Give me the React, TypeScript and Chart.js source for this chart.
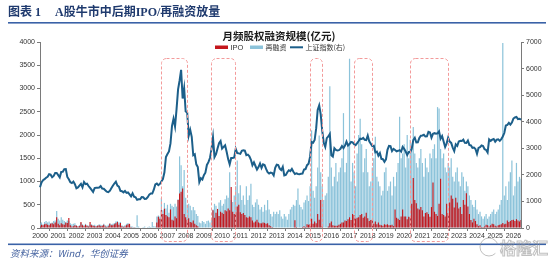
import React, { useEffect, useRef } from "react";
import { Chart, registerables } from "chart.js";

Chart.register(...registerables);

// Monthly categories, 2000-01 .. 2026-06
const startYear = 2000;
const monthCount = 318;
const monthLabels: string[] = [];
for (let i = 0; i < monthCount; i++) {
  const y = startYear + Math.floor(i / 12);
  const m = (i % 12) + 1;
  monthLabels.push(`${y}-${m < 10 ? "0" + m : m}`);
}

// IPO fundraising, 亿元 (one row per year)
const ipoValues = [
  40, 70, 60, 80, 90, 70, 60, 90, 100, 80, 120, 230,
  90, 60, 100, 80, 70, 120, 110, 215, 60, 30, 40, 60,
  50, 30, 40, 130, 60, 40, 70, 50, 30, 130, 60, 50,
  40, 30, 50, 60, 40, 50, 70, 30, 20, 40, 90, 60,
  60, 80, 100, 130, 70, 110, 40, 20, 30, 60, 80, 90,
  20, 10, 15, 10, 10, 0, 0, 0, 0, 0, 0, 0,
  0, 0, 0, 0, 0, 120, 240, 200, 380, 300, 415, 280,
  250, 230, 400, 180, 160, 250, 210, 600, 740, 780, 850, 300,
  230, 180, 210, 130, 120, 160, 90, 60, 40, 0, 0, 0,
  0, 0, 0, 0, 0, 0, 380, 220, 330, 410, 260, 350,
  330, 300, 380, 360, 420, 380, 880, 350, 300, 340, 460, 500,
  340, 300, 320, 280, 230, 220, 250, 230, 160, 120, 140, 180,
  120, 100, 100, 120, 110, 90, 100, 60, 40, 20, 0, 0,
  0, 0, 0, 0, 0, 0, 0, 0, 0, 0, 0, 0,
  165, 20, 0, 0, 0, 20, 40, 20, 80, 70, 80, 200,
  90, 140, 100, 300, 180, 600, 40, 0, 0, 0, 30, 100,
  140, 60, 50, 50, 50, 70, 90, 120, 120, 160, 150, 190,
  230, 170, 300, 280, 200, 220, 230, 280, 300, 220, 250, 330,
  210, 150, 170, 180, 90, 140, 80, 120, 70, 60, 50, 80,
  70, 80, 60, 60, 70, 40, 400, 220, 200, 170, 250, 400,
  250, 250, 190, 240, 230, 520, 1075, 600, 530, 420, 400, 450,
  380, 250, 320, 340, 300, 240, 450, 980, 350, 300, 260, 520,
  1060, 300, 280, 250, 520, 320, 550, 700, 630, 440, 650, 550,
  420, 450, 300, 600, 500, 750, 460, 300, 170, 120, 200, 150,
  80, 40, 60, 20, 20, 30, 70, 60, 30, 60, 90, 80,
  50, 30, 60, 70, 80, 110, 80, 90, 160, 130, 150, 170,
  180, 150, 190, 160, 140, 170,
];

// Refinancing, 亿元 (one row per year)
const refiValues = [
  100, 120, 80, 130, 150, 120, 140, 100, 120, 150, 160, 365,
  200, 160, 230, 180, 150, 120, 160, 150, 100, 80, 90, 100,
  60, 40, 60, 110, 80, 60, 90, 60, 50, 70, 80, 60,
  70, 50, 60, 80, 70, 60, 90, 60, 50, 70, 100, 80,
  90, 110, 140, 150, 120, 130, 60, 40, 60, 90, 110, 60,
  40, 30, 20, 20, 272, 30, 10, 10, 20, 30, 10, 20,
  30, 20, 130, 40, 30, 250, 270, 250, 645, 380, 540, 420,
  500, 330, 520, 480, 450, 520, 460, 620, 1540, 1350, 900, 1250,
  650, 500, 520, 480, 380, 450, 380, 300, 260, 120, 100, 150,
  130, 90, 150, 160, 120, 180, 400, 520, 480, 300, 550, 600,
  480, 520, 620, 700, 650, 1200, 600, 560, 700, 900, 1450, 750,
  920, 600, 700, 500, 900, 600, 700, 950, 500, 450, 550, 620,
  500, 400, 450, 350, 500, 380, 600, 400, 300, 250, 350, 300,
  350, 300, 380, 250, 200, 300, 250, 180, 300, 400, 450, 500,
  480, 600, 850, 500, 450, 400, 550, 600, 700, 580, 900, 2100,
  800, 650, 900, 1300, 1990, 1200, 900, 600, 700, 750, 1100, 3050,
  1300, 900, 1100, 1400, 1000, 1200, 1300, 1500, 2470, 1200, 1400, 1800,
  3640, 1000, 1400, 1200, 900, 1600, 2000, 2350, 1800, 1200, 1500, 1700,
  1200, 900, 1000, 1300, 1500, 1960, 1100, 1000, 900, 700, 800, 1200,
  1300, 800, 900, 1000, 700, 1100, 900, 1200, 1400, 2390, 1500, 1600,
  1800, 1300, 2000, 1500, 1900, 1700, 2170, 1600, 1400, 1300, 1500, 1700,
  1400, 1100, 1500, 1300, 1200, 1600, 1500, 1700, 1800, 1500, 2600, 2570,
  1700, 1500, 1600, 1300, 1200, 1400, 1300, 1500, 1100, 1000, 1200, 1300,
  1000, 900, 1200, 1100, 800, 1000, 900, 700, 600, 500, 450, 600,
  400, 300, 350, 250, 200, 250, 300, 200, 250, 300, 350, 400,
  300, 350, 400, 500, 600, 3980, 700, 900, 600, 1000, 1200, 1450,
  700, 900, 1400, 1000, 1100, 1060,
];

// Shanghai Composite, month-end level (right axis)
const sseIndex = [
  1535, 1715, 1800, 1836, 1894, 1928, 2023, 2008, 1910, 1961, 2070, 2073,
  1991, 1908, 2112, 2119, 2214, 2218, 1920, 1834, 1724, 1690, 1747, 1646,
  1491, 1525, 1594, 1660, 1531, 1733, 1650, 1669, 1581, 1507, 1435, 1357,
  1500, 1512, 1511, 1521, 1577, 1487, 1477, 1421, 1367, 1349, 1397, 1497,
  1590, 1675, 1742, 1595, 1555, 1399, 1386, 1342, 1396, 1320, 1341, 1266,
  1191, 1306, 1181, 1159, 1060, 1080, 1083, 1162, 1155, 1092, 1099, 1161,
  1258, 1299, 1298, 1440, 1641, 1672, 1612, 1658, 1752, 1838, 2099, 2675,
  2786, 2881, 3183, 3841, 4109, 3820, 4471, 5218, 5552, 5954, 4871, 5262,
  4383, 4348, 3473, 3693, 3433, 2736, 2775, 2397, 2293, 1729, 1871, 1821,
  1991, 2082, 2373, 2477, 2633, 2959, 3412, 2668, 2779, 2996, 3195, 3277,
  2989, 3051, 3110, 2871, 2592, 2398, 2638, 2639, 2656, 2979, 2820, 2808,
  2791, 2905, 2928, 2911, 2743, 2762, 2701, 2568, 2359, 2469, 2333, 2199,
  2293, 2428, 2263, 2397, 2373, 2225, 2103, 2048, 2086, 2069, 1980, 2269,
  2385, 2366, 2237, 2178, 2301, 1979, 1994, 2098, 2175, 2141, 2221, 2116,
  2033, 2056, 2033, 2026, 2039, 2048, 2202, 2217, 2364, 2420, 2683, 3235,
  3210, 3310, 3748, 4442, 4612, 4277, 3664, 3206, 3053, 3383, 3445, 3539,
  2738, 2688, 3004, 2938, 2917, 2930, 2979, 3085, 3005, 3100, 3250, 3104,
  3159, 3242, 3223, 3155, 3117, 3192, 3273, 3361, 3349, 3393, 3317, 3307,
  3481, 3259, 3169, 3082, 3095, 2847, 2876, 2725, 2821, 2603, 2588, 2494,
  2585, 2941, 3091, 3078, 2899, 2979, 2933, 2886, 2905, 2929, 2871, 3050,
  2977, 2880, 2750, 2860, 2852, 2985, 3310, 3396, 3218, 3225, 3392, 3473,
  3483, 3509, 3442, 3447, 3615, 3591, 3397, 3544, 3568, 3547, 3564, 3640,
  3361, 3462, 3252, 3047, 3186, 3399, 3253, 3202, 3024, 2893, 3151, 3089,
  3256, 3280, 3273, 3323, 3205, 3202, 3291, 3120, 3110, 3019, 3030, 2975,
  2789, 3015, 3041, 3105, 3087, 2967, 2939, 2842, 3336, 3279, 3326, 3352,
  3251, 3321, 3336, 3279, 3347, 3444, 3573, 3858, 3883, 3955, 3888, 3969,
  4120, 4160, 4180, 4100, 4110, 4080,
];

// Bull-market windows outlined with dashed boxes (first and last month)
const bullWindows: [string, string][] = [
  ["2006-09", "2008-02"],
  ["2009-06", "2010-10"],
  ["2014-11", "2015-07"],
  ["2017-04", "2018-04"],
  ["2020-05", "2022-06"],
];

const figureTitle = "A股牛市中后期IPO/再融资放量";
const chartTitle = "月频股权融资规模(亿元)";
const sourceNote = "资料来源：Wind，华创证券";

const RED = "#C4161C";
const LIGHT_BLUE = "#8CC3DA";
const LINE_BLUE = "#1C5F8A";
const NAVY = "#1F3A6E";
const RULE_BLUE = "#3A62A7";
const SANS = '"Liberation Sans", Arial, sans-serif';
const CJK = '"Noto Sans CJK SC", sans-serif';

function roundedRect(ctx: CanvasRenderingContext2D, x: number, y: number, w: number, h: number, r: number) {
  ctx.beginPath();
  ctx.moveTo(x + r, y);
  ctx.lineTo(x + w - r, y);
  ctx.arcTo(x + w, y, x + w, y + r, r);
  ctx.lineTo(x + w, y + h - r);
  ctx.arcTo(x + w, y + h, x + w - r, y + h, r);
  ctx.lineTo(x + r, y + h);
  ctx.arcTo(x, y + h, x, y + h - r, r);
  ctx.lineTo(x, y + r);
  ctx.arcTo(x, y, x + r, y, r);
  ctx.closePath();
}

const decorations = {
  id: "decorations",
  afterDatasetsDraw(chart: any) {
    const ctx: CanvasRenderingContext2D = chart.ctx;
    const xs = chart.scales.x;
    const yl = chart.scales.y;
    const bottom = chart.chartArea.bottom + 13;
    const top = yl.getPixelForValue(3650);
    ctx.save();
    ctx.strokeStyle = "#F39A9A";
    ctx.lineWidth = 1;
    ctx.setLineDash([3, 2]);
    bullWindows.forEach(([s, e]) => {
      const x0 = xs.getPixelForValue(monthLabels.indexOf(s));
      const x1 = xs.getPixelForValue(monthLabels.indexOf(e));
      roundedRect(ctx, Math.round(x0) + 0.5, Math.round(top) + 0.5, Math.round(x1 - x0), Math.round(bottom - top), 5);
      ctx.stroke();
    });
    ctx.restore();
  },
  afterDraw(chart: any) {
    const ctx: CanvasRenderingContext2D = chart.ctx;
    const W = chart.width;
    ctx.save();

    // figure heading
    ctx.fillStyle = NAVY;
    ctx.textBaseline = "alphabetic";
    ctx.textAlign = "left";
    ctx.font = `bold 12px "Liberation Serif", ${CJK}`;
    ctx.fillText("图表 1", 8, 16);
    ctx.fillText(figureTitle, 55, 16);
    ctx.fillStyle = RULE_BLUE;
    ctx.fillRect(8, 22, W - 16, 1.6);

    // chart title
    ctx.fillStyle = "#1a1a1a";
    ctx.textAlign = "center";
    ctx.textBaseline = "middle";
    ctx.font = `bold 10.5px ${CJK}`;
    ctx.fillText(chartTitle, 279, 36.5);

    // legend
    ctx.textAlign = "left";
    ctx.font = `7.5px ${SANS}`;
    ctx.fillStyle = RED;
    ctx.fillRect(215, 45.5, 13, 3.5);
    ctx.fillStyle = "#333";
    ctx.fillText("IPO", 230.5, 47.5);
    ctx.fillStyle = LIGHT_BLUE;
    ctx.fillRect(250, 45.5, 13, 3.5);
    ctx.fillStyle = "#333";
    ctx.font = `7px ${CJK}`;
    ctx.fillText("再融资", 265.5, 47.5);
    ctx.fillStyle = LINE_BLUE;
    ctx.fillRect(290, 46.3, 13, 2);
    ctx.fillStyle = "#333";
    ctx.fillText("上证指数(右)", 305.5, 47.5);

    // bottom rule and source note
    ctx.fillStyle = RULE_BLUE;
    ctx.fillRect(8, 243.5, W - 16, 1.6);
    ctx.fillStyle = "#4563A0";
    ctx.font = `italic 9.5px ${CJK}`;
    ctx.textBaseline = "middle";
    ctx.fillText(sourceNote, 10, 253);

    // faint watermark
    ctx.strokeStyle = "rgba(140,140,140,0.55)";
    ctx.lineWidth = 1;
    ctx.beginPath();
    ctx.arc(489, 247, 9, 0.25 * Math.PI, 1.9 * Math.PI);
    ctx.stroke();
    ctx.font = `bold 16px ${CJK}`;
    ctx.strokeText("格隆汇", 500, 248);
    ctx.restore();
  },
};

export default function App() {
  const ref = useRef<HTMLCanvasElement | null>(null);

  useEffect(() => {
    document.body.style.margin = "0";
    const canvas = ref.current;
    if (!canvas) return;
    const axisColor = "#7a7a7a";
    const tickFont = { family: SANS, size: 7 };
    const plain = (v: any) => String(v);
    const chart = new Chart(canvas, {
      type: "bar",
      data: {
        labels: monthLabels,
        datasets: [
          {
            type: "line",
            label: "上证指数(右)",
            data: sseIndex,
            yAxisID: "y1",
            borderColor: LINE_BLUE,
            borderWidth: 2,
            pointRadius: 0,
            tension: 0,
            order: 0,
          } as any,
          {
            label: "IPO",
            data: ipoValues,
            yAxisID: "y",
            backgroundColor: RED,
            grouped: false,
            barPercentage: 0.75,
            categoryPercentage: 1,
            order: 1,
          },
          {
            label: "再融资",
            data: refiValues,
            yAxisID: "y",
            backgroundColor: LIGHT_BLUE,
            grouped: false,
            barPercentage: 0.8,
            categoryPercentage: 1,
            order: 2,
          },
        ],
      },
      options: {
        responsive: false,
        animation: false,
        devicePixelRatio: 1,
        layout: { padding: { top: 42, left: 0, right: 0, bottom: 0 } },
        plugins: {
          legend: { display: false },
          title: { display: false },
          tooltip: { enabled: false },
        },
        scales: {
          x: {
            type: "category",
            offset: false,
            afterBuildTicks: (axis: any) => {
              axis.ticks = axis.ticks.filter((t: any) => t.value % 12 === 0);
            },
            afterFit: (axis: any) => {
              axis.height = 32;
            },
            ticks: {
              autoSkip: false,
              maxRotation: 0,
              minRotation: 0,
              padding: 1,
              color: "#333",
              font: tickFont,
              callback: (v: any) => monthLabels[v].slice(0, 4),
            },
            grid: { display: true, drawOnChartArea: false, drawTicks: true, tickLength: 3, color: axisColor },
            border: { display: true, color: axisColor },
          },
          y: {
            position: "left",
            min: 0,
            max: 4000,
            afterFit: (axis: any) => {
              axis.width = 40;
            },
            ticks: { stepSize: 500, padding: 2, color: "#333", font: tickFont, callback: plain },
            grid: { display: true, drawOnChartArea: false, drawTicks: true, tickLength: 3, color: axisColor },
            border: { display: true, color: axisColor },
          },
          y1: {
            position: "right",
            min: 0,
            max: 7000,
            afterFit: (axis: any) => {
              axis.width = 33;
            },
            ticks: { stepSize: 1000, padding: 2, color: "#333", font: tickFont, callback: plain },
            grid: { display: true, drawOnChartArea: false, drawTicks: true, tickLength: 3, color: axisColor },
            border: { display: true, color: axisColor },
          },
        },
      },
      plugins: [decorations],
    });
    return () => chart.destroy();
  }, []);

  return (
    <div style={{ width: 554, height: 260, background: "#fff" }}>
      <canvas ref={ref} width={554} height={260} style={{ display: "block", width: 554, height: 260 }} />
    </div>
  );
}
